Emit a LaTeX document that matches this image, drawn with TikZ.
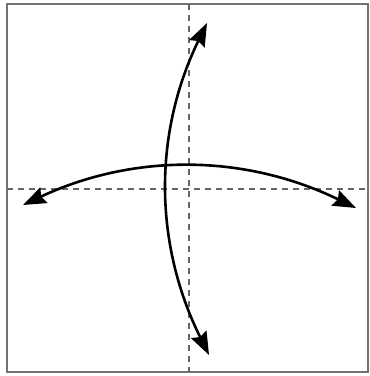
\documentclass[tikz,border=0pt]{standalone}
\usetikzlibrary{arrows.meta}
\begin{document}
\begin{tikzpicture}[x=1pt,y=-1pt,
  frame/.style={draw=black!55,line width=2.2pt},
  guide/.style={draw=black!60,line width=2pt,dash pattern=on 6pt off 5pt},
  fold/.style={draw=black,line width=2.6pt,{Stealth[length=23pt,width=17pt,inset=3pt]}-{Stealth[length=23pt,width=17pt,inset=3pt]}}]
\useasboundingbox (0,0) rectangle (370,376);
\fill[white] (0,0) rectangle (370,376);
\coordinate (tl) at (7,4);
\coordinate (br) at (368,372);
\draw[frame] (tl) rectangle (br);
\coordinate (vt) at (189,4);
\coordinate (vb) at (189,372);
\coordinate (hl) at (7,189);
\coordinate (hr) at (368,189);
\draw[guide] (vt) -- (vb);
\draw[guide] (hl) -- (hr);
\coordinate (L) at (23,205);
\coordinate (R) at (356,208);
\coordinate (T) at (207,23);
\coordinate (B) at (209,355);
\draw[fold] (L) .. controls (134,153) and (245,154) .. (R);
\draw[fold] (T) .. controls (153,134) and (154,244) .. (B);
\end{tikzpicture}
\end{document}
